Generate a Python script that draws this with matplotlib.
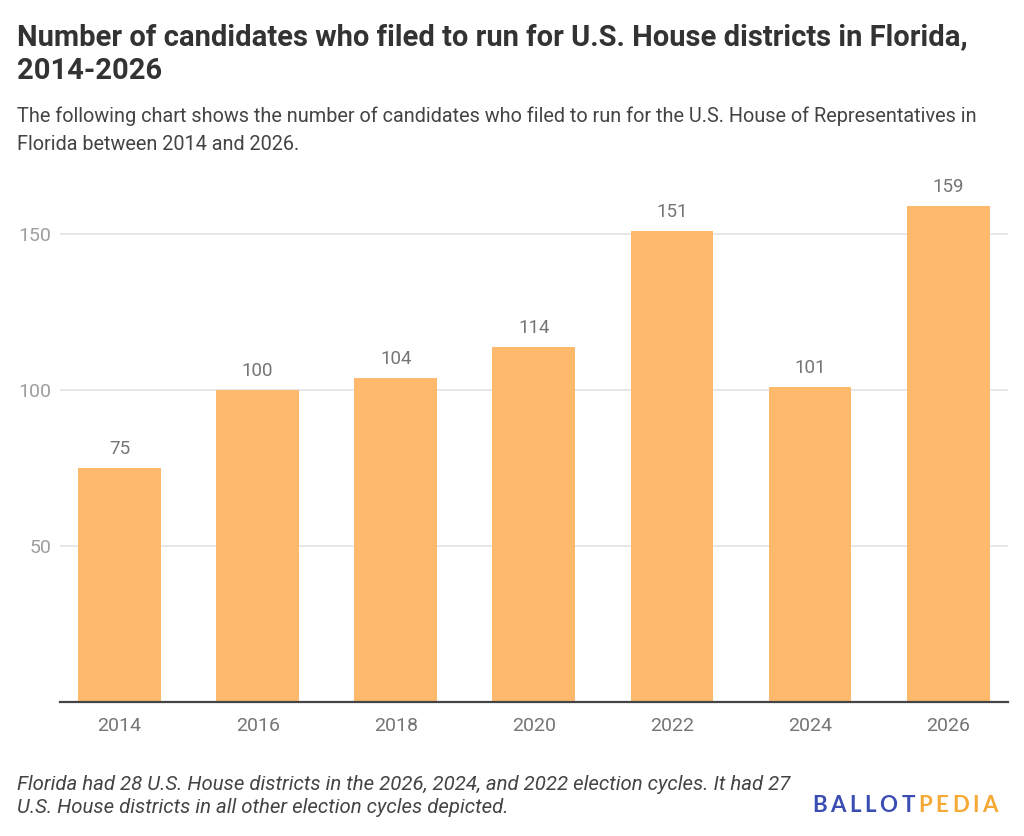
import matplotlib
matplotlib.use("Agg")
import matplotlib.pyplot as plt

years = ["2014", "2016", "2018", "2020", "2022", "2024", "2026"]
candidates = [75, 100, 104, 114, 151, 101, 159]
yticks = [50, 100, 150]

title_lines = ["Number of candidates who filed to run for U.S. House districts in Florida,",
               "2014-2026"]
subtitle_lines = ["The following chart shows the number of candidates who filed to run for the U.S. House of Representatives in",
                  "Florida between 2014 and 2026."]
footnote_lines = ["Florida had 28 U.S. House districts in the 2026, 2024, and 2022 election cycles. It had 27",
                  "U.S. House districts in all other election cycles depicted."]

plt.rcParams['font.family'] = ['Roboto', 'DejaVu Sans']

W, H = 1024, 836
fig = plt.figure(figsize=(W / 100, H / 100), dpi=100)

ax_left, ax_right = 60, 1007.7
ax_bottom_px, ax_top_px = 702, 187.5
ax = fig.add_axes([ax_left / W, 1 - ax_bottom_px / H,
                   (ax_right - ax_left) / W, (ax_bottom_px - ax_top_px) / H])

x = list(range(len(years)))
ax.bar(x, candidates, width=0.6, color="#FFB96D", zorder=3)
ax.set_xlim(-0.431, len(years) - 1 + 0.431)
ax.set_ylim(0, 165)

ax.set_yticks(yticks)
ax.set_yticklabels([str(v) for v in yticks])
ax.grid(axis="y", color="#E3E3E3", linewidth=1.2, zorder=0)
ax.set_xticks(x)
ax.set_xticklabels(years)
ax.tick_params(axis="x", length=0, pad=11, labelsize=14, labelcolor="#757575")
ax.tick_params(axis="y", length=0, pad=6, labelsize=14, labelcolor="#9E9E9E")
for s in ["top", "right", "left"]:
    ax.spines[s].set_visible(False)
ax.spines["bottom"].set_color("#444444")
ax.spines["bottom"].set_linewidth(1.6)
ax.spines["bottom"].set_zorder(4)

for xi, v in zip(x, candidates):
    ax.annotate(str(v), (xi, v), xytext=(0, 10), textcoords="offset points",
                ha="center", va="baseline", fontsize=13.5, color="#757575")


def lines(texts, x0, baselines, **kw):
    for t, yb in zip(texts, baselines):
        fig.text(x0 / W, 1 - yb / H, t, ha="left", va="baseline", **kw)


lines(title_lines, 17, [45, 79], fontsize=21, fontweight="bold", color="#333333")
lines(subtitle_lines, 17, [122, 150], fontsize=14.3, color="#444444")
lines(footnote_lines, 17, [790, 813], fontsize=14.7, color="#444444", style="italic")

# logo
fig.canvas.draw()
renderer = fig.canvas.get_renderer()
xpos = 812
for word, col in [("BALLOT", "#3A4DB3"), ("PEDIA", "#F6A934")]:
    for ch in word:
        t = fig.text(xpos / W, 1 - 812 / H, ch, fontsize=16, fontweight="bold",
                     color=col, ha="left", va="baseline", family=["Lato", "DejaVu Sans"])
        bb = t.get_window_extent(renderer)
        xpos = bb.x1 + 3.6
fig.savefig("out.png", dpi=100, facecolor="white")
